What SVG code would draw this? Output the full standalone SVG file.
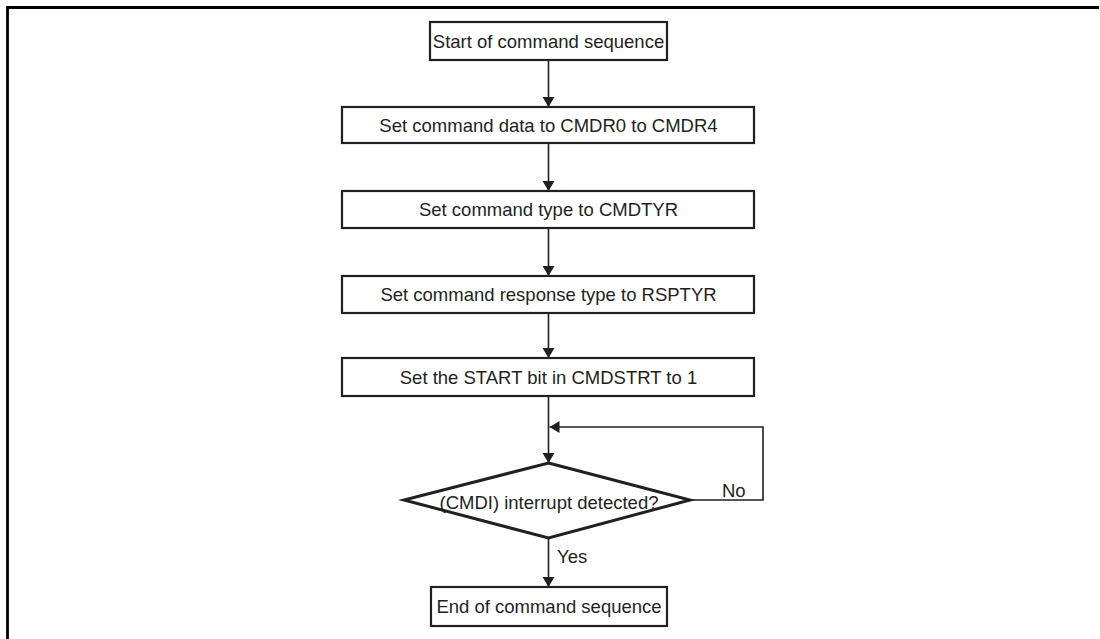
<svg xmlns="http://www.w3.org/2000/svg" width="1100" height="639" viewBox="0 0 1100 639">
<defs>
<style>
.box{fill:#fff;stroke:#231f20;stroke-width:2.2}
.dia{fill:#fff;stroke:#231f20;stroke-width:3}
.t{font-family:"Liberation Sans",Arial,sans-serif;font-size:18.5px;fill:#231f20}
.c{text-anchor:middle}
.ln{fill:none;stroke:#231f20;stroke-width:1.6}
</style>
<marker id="ah" markerWidth="10" markerHeight="12" refX="10" refY="6" orient="auto" markerUnits="userSpaceOnUse">
<path d="M0,0 L10,6 L0,12 Z" fill="#231f20"/>
</marker>
</defs>
<rect width="1100" height="639" fill="#fff"/>
<path d="M7.5,645 V7.5 H1099" fill="none" stroke="#000" stroke-width="2.8"/>
<g id="connectors">
<line class="ln" x1="548.5" y1="60" x2="548.5" y2="107" marker-end="url(#ah)"/>
<line class="ln" x1="548.5" y1="143" x2="548.5" y2="191" marker-end="url(#ah)"/>
<line class="ln" x1="548.5" y1="228" x2="548.5" y2="276" marker-end="url(#ah)"/>
<line class="ln" x1="548.5" y1="313" x2="548.5" y2="358" marker-end="url(#ah)"/>
<line class="ln" x1="548.5" y1="396" x2="548.5" y2="463" marker-end="url(#ah)"/>
<path class="ln" d="M690,500 H763 V427 H549.5" marker-end="url(#ah)"/>
<line class="ln" x1="548.5" y1="538" x2="548.5" y2="587" marker-end="url(#ah)"/>
<text class="t" x="722" y="497">No</text>
<text class="t" x="557" y="563">Yes</text>
</g>
<g id="start">
<rect class="box" x="430" y="22" width="237" height="38"/>
<text class="t c" x="548.5" y="48">Start of command sequence</text>
</g>
<g id="set-data">
<rect class="box" x="342" y="107" width="412" height="36"/>
<text class="t c" x="548.5" y="131.5">Set command data to CMDR0 to CMDR4</text>
</g>
<g id="set-type">
<rect class="box" x="342" y="191" width="412" height="37"/>
<text class="t c" x="548.5" y="216">Set command type to CMDTYR</text>
</g>
<g id="set-resp">
<rect class="box" x="342" y="276" width="412" height="37"/>
<text class="t c" x="548.5" y="301">Set command response type to RSPTYR</text>
</g>
<g id="set-start">
<rect class="box" x="342" y="358" width="412" height="38"/>
<text class="t c" x="548.5" y="383.5">Set the START bit in CMDSTRT to 1</text>
</g>
<g id="decision">
<polygon class="dia" points="548.5,463 690,500 548.5,538 404,500"/>
<text class="t c" x="549" y="509">(CMDI) interrupt detected?</text>
</g>
<g id="end">
<rect class="box" x="431" y="587" width="236" height="39"/>
<text class="t c" x="549" y="613">End of command sequence</text>
</g>
</svg>
